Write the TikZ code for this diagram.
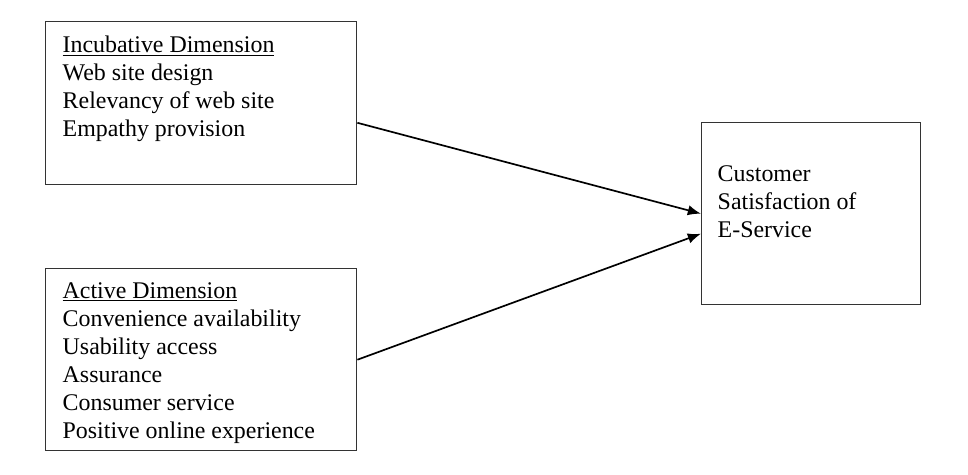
\documentclass[tikz,border=0pt]{standalone}
\usepackage{fontspec}
\setmainfont{Liberation Serif}
\usetikzlibrary{arrows.meta}

\begin{document}
\begin{tikzpicture}[
        dimbox/.style={rectangle, draw=black!80, line width=1pt, anchor=north west,
        inner ysep=0pt, font=\fontsize{17pt}{19.9pt}\selectfont},
        arrow/.style={-{Latex[length=3.3mm, width=2.6mm]}, line width=1.2pt}
    ]

        \useasboundingbox (0,0) rectangle (24.2,11.85);

        % --- Dimensions ---
        \node[dimbox, inner xsep=0.425cm] (incub) at (1.125,11.325)
            {\parbox[c][4.075cm][t]{6.925cm}{\vspace*{0.365cm}\underline{Incubative Dimension}\\Web site design\\Relevancy of web site\\Empathy provision}};
        \node[dimbox, inner xsep=0.425cm] (active) at (1.125,5.15)
            {\parbox[c][4.55cm][t]{6.925cm}{\vspace*{0.34cm}\underline{Active Dimension}\\Convenience availability\\Usability access\\Assurance\\Consumer service\\Positive online experience}};

        % --- Outcome ---
        \node[dimbox, inner xsep=0.4cm] (sat) at (17.525,8.8)
            {\parbox[c][4.55cm][t]{4.675cm}{\vspace*{1.07cm}Customer\\Satisfaction of\\E-Service}};

        \draw[arrow] ([yshift=-0.49cm]incub.east) -- (sat.west);
        \draw[arrow] (active.east) -- ([yshift=-0.5cm]sat.west);

    \end{tikzpicture}
\end{document}
